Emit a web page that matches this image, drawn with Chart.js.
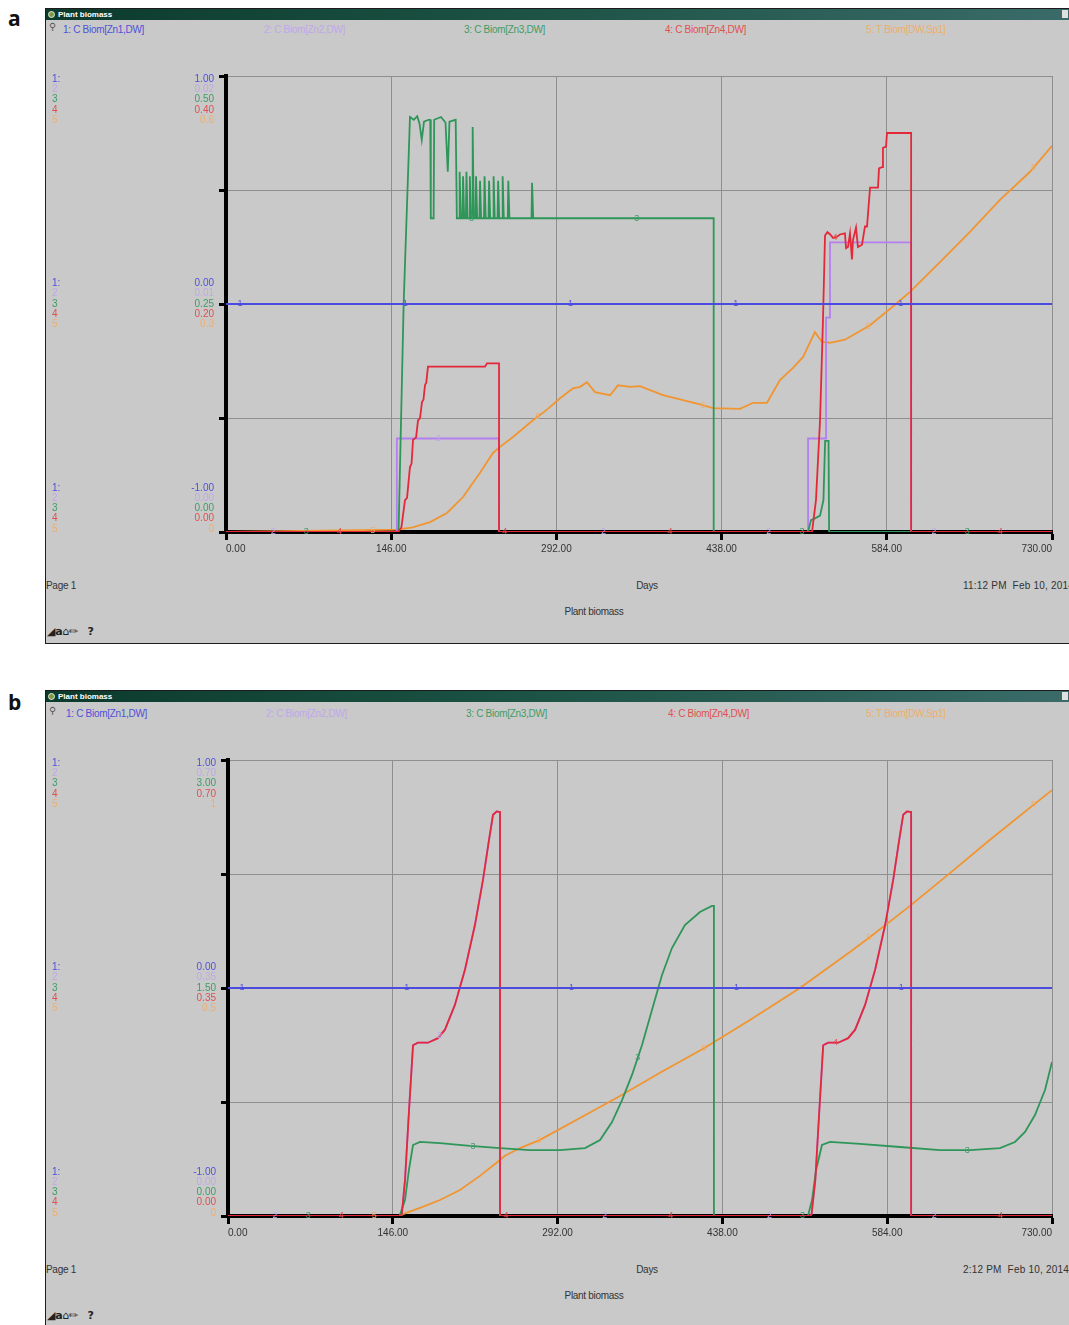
<!DOCTYPE html>
<html>
<head>
<meta charset="utf-8">
<script src="https://cdn.jsdelivr.net/npm/chart.js@4"></script>
<style>
body{margin:0;width:1069px;height:1325px;position:relative;overflow:hidden;background:#fff;font-family:"Liberation Sans",Arial,sans-serif}
.tag{position:absolute;left:8px;font:bold 21px "Open Sans","DejaVu Sans",sans-serif;color:#111}
.win{position:absolute;left:45px;width:1024px;box-sizing:border-box;border:1px solid #1c1c1c;border-right:none;background:#c9c9c9;overflow:hidden}
.bar{position:absolute;left:0;top:0;right:0;height:11px;background:linear-gradient(to right,#0c3a2c,#1b5243 45%,#3a6b69)}
.bar span{position:absolute;left:12px;top:0;font:bold 8px "Liberation Sans",Arial;color:#fff;line-height:11px}
.dot{position:absolute;left:2px;top:2px;width:5px;height:5px;border:1px solid #e4ecc8;border-radius:50%;background:#7a9a50}
.box{position:absolute;right:1px;top:1px;width:6px;height:8px;background:#e0e0e0}
.t{position:absolute;font-size:10px;line-height:12px;white-space:pre;letter-spacing:-0.3px;color:#333}
canvas{position:absolute;left:0;top:0}
</style>
</head>
<body>
<div class="tag" style="top:4px">a</div>
<div class="tag" style="top:688px">b</div>
<script>
// values: [day, value] per series
const dayMin = 0, dayMax = 730, dayStep = 146;

// panel a
const zn1A = [[0, 0], [730, 0]];
const zn2A = [[0, 0], [151, 0], [151, 0.0041], [241.3, 0.0041], [241.3, 0], [514.4, 0], [514.4, 0.0041],
  [530.3, 0.0041], [530.3, 0.0094], [533.8, 0.0094], [533.8, 0.0127], [605.5, 0.0127], [605.5, 0], [730, 0]];
const zn3A = [[0, 0], [152.5, 0], [157, 0.25], [162.6, 0.455], [166, 0.452], [169, 0.456], [171, 0.448], [173, 0.43],
  [175, 0.45], [179, 0.452], [180.5, 0.452], [181, 0.344], [183.5, 0.344], [184, 0.452], [190, 0.455], [194, 0.449],
  [196, 0.395], [197.5, 0.45], [203, 0.452], [204, 0.344], [206, 0.344], [206.5, 0.395], [207.5, 0.344], [209, 0.344],
  [209.5, 0.39], [210.5, 0.344], [212, 0.344], [212.5, 0.395], [213.5, 0.344], [215, 0.344], [215.5, 0.39],
  [216.5, 0.344], [217.5, 0.344], [218, 0.444], [219, 0.344], [220.5, 0.344], [221, 0.39], [222, 0.344], [224, 0.344],
  [224.5, 0.385], [225.5, 0.344], [228, 0.344], [228.5, 0.39], [229.5, 0.344], [232, 0.344], [232.5, 0.385],
  [233.5, 0.344], [236, 0.344], [236.5, 0.39], [237.5, 0.344], [240, 0.344], [240.5, 0.385], [241.5, 0.344],
  [244, 0.344], [244.5, 0.39], [245.5, 0.344], [249, 0.344], [249.5, 0.385], [250.5, 0.344], [270, 0.344],
  [270.5, 0.383], [271.5, 0.344], [431, 0.344], [431, 0], [514.4, 0], [517, 0.013], [520.5, 0.015], [525, 0.018],
  [528, 0.035], [529.5, 0.1], [532.5, 0.1], [533, 0], [730, 0]];
const zn4A = [[0, 0], [152, 0], [155, 0.004], [158.2, 0.028], [160, 0.03], [162.6, 0.057], [164, 0.06], [165.3, 0.081],
  [168, 0.083], [169.7, 0.098], [171.5, 0.1], [173.2, 0.114], [174.5, 0.116], [175.9, 0.129], [177, 0.131],
  [178.5, 0.145], [228.9, 0.145], [230.7, 0.148], [241.3, 0.148], [241.3, 0], [517.9, 0], [521.4, 0.028],
  [525, 0.098], [527.6, 0.186], [529.4, 0.26], [531.5, 0.263], [534, 0.261], [536.5, 0.258], [540, 0.259],
  [542.6, 0.261], [547, 0.262], [548, 0.249], [549.7, 0.25], [551.5, 0.262], [553.2, 0.239], [554.1, 0.256],
  [556.8, 0.267], [558.5, 0.25], [562.1, 0.252], [564.7, 0.268], [566.5, 0.268], [569.2, 0.302], [576.2, 0.302],
  [577.1, 0.319], [579.8, 0.32], [580.6, 0.337], [583.3, 0.338], [584.2, 0.35], [605.5, 0.35], [605.5, 0], [730, 0]];
const zn5A = [[0, 0], [151, 0.003], [165, 0.006], [180.3, 0.013], [195.3, 0.025], [209.5, 0.046], [224.5, 0.078],
  [236, 0.104], [242.2, 0.112], [253.6, 0.125], [271.3, 0.147], [283.7, 0.161], [295.2, 0.176], [306.7, 0.189],
  [312.9, 0.191], [319, 0.197], [326.1, 0.184], [339.4, 0.18], [346.4, 0.193], [357, 0.191], [365.9, 0.192],
  [386.2, 0.18], [421.6, 0.167], [430.4, 0.163], [454.3, 0.162], [465.8, 0.17], [478.1, 0.17], [489.6, 0.2],
  [501.1, 0.216], [509.9, 0.23], [520.5, 0.263], [526.7, 0.25], [533.8, 0.249], [547, 0.253], [569.2, 0.272],
  [591.2, 0.299], [604.5, 0.316], [631, 0.355], [657.5, 0.395], [684, 0.437], [710.6, 0.474], [730, 0.508]];

// panel b
const zn1B = [[0, 0], [730, 0]];
const zn3B = [[0, 0], [152, 0], [156.8, 0.105], [160.3, 0.303], [163.9, 0.467], [170.1, 0.487], [187.8, 0.48],
  [214.4, 0.461], [241, 0.447], [267.5, 0.434], [294.1, 0.434], [316.3, 0.447], [329.6, 0.5], [340.2, 0.618],
  [349.1, 0.763], [357.9, 0.928], [366.8, 1.125], [375.6, 1.355], [384.5, 1.586], [393.3, 1.763], [404.8, 1.914],
  [418.1, 2.0], [428.7, 2.04], [430.5, 2.04], [430.5, 0], [513.8, 0], [517.4, 0.105], [521, 0.303], [526.2, 0.467],
  [533.3, 0.487], [559.9, 0.474], [595.3, 0.454], [630.8, 0.434], [657.3, 0.434], [683.9, 0.447], [697.2, 0.487],
  [706.1, 0.553], [714.9, 0.664], [723.8, 0.829], [730, 1.013]];
// series 2 and 4 lie on top of each other in panel b
const zn4B = [[0, 0], [152.4, 0], [154, 0.003], [156.8, 0.055], [160.3, 0.16], [163.9, 0.262], [168.3, 0.266],
  [177.2, 0.266], [186, 0.273], [192.2, 0.286], [201, 0.324], [209.9, 0.378], [218.8, 0.447], [225.9, 0.516],
  [231.2, 0.577], [234.8, 0.616], [238, 0.621], [241, 0.62], [241, 0], [515.5, 0], [517, 0.003], [520.3, 0.055],
  [523.8, 0.16], [527.3, 0.262], [531.7, 0.266], [540.6, 0.266], [549.4, 0.273], [555.6, 0.286], [564.4, 0.324],
  [573.3, 0.378], [582.2, 0.447], [589.3, 0.516], [594.6, 0.577], [598.2, 0.616], [601.5, 0.621], [605.2, 0.62],
  [605.2, 0], [730, 0]];
const zn2B = zn4B;
const zn5B = [[0, 0], [152.4, 0], [155, 0.004], [170.1, 0.018], [187.8, 0.035], [205.5, 0.057], [223.2, 0.088],
  [236.5, 0.114], [245.4, 0.132], [258.7, 0.149], [276.4, 0.167], [311.8, 0.215], [347.3, 0.263], [382.7, 0.314],
  [421.7, 0.368], [462.4, 0.43], [506.7, 0.5], [551, 0.579], [568.8, 0.612], [604.2, 0.68], [639.6, 0.752],
  [675.1, 0.825], [715.8, 0.906], [730, 0.934]];

const scaleMinA = [-1, 0, 0, 0, 0];
const scaleMaxA = [1, 0.02, 0.5, 0.4, 0.6];
const scaleMinB = [-1, 0, 0, 0, 0];
const scaleMaxB = [1, 0.7, 3, 0.7, 1];

const seriesNames = ['1: C Biom[Zn1,DW]', '2: C Biom[Zn2,DW]', '3: C Biom[Zn3,DW]', '4: C Biom[Zn4,DW]', '5: T Biom[DW,Sp1]'];
const lineColors = ['#4b4bdf', '#b47ff0', '#2e9659', '#e4283a', '#f19530'];
const textColors = ['#5050da', '#bfa8ea', '#3f9c66', '#e05050', '#f0ae6a'];
const drawOrder = [0, 3, 2, 1, 4];
// days where the numbered markers sit on each curve (repeat every 146 days)
const markerDays = [12.4, 41.7, 71, 100.3, 129.6];

const font = '"Liberation Sans", Arial, sans-serif';

function valueAt(pts, d) {
  for (let j = 0; j < pts.length - 1; j++) {
    const a = pts[j], b = pts[j + 1];
    if (d >= a[0] && d <= b[0]) {
      if (b[0] === a[0]) return b[1];
      return a[1] + (b[1] - a[1]) * (d - a[0]) / (b[0] - a[0]);
    }
  }
  return pts[pts.length - 1][1];
}

const scaleStacks = {
  id: 'scaleStacks',
  afterDraw(chart) {
    const ctx = chart.ctx, a = chart.chartArea;
    const mid = (a.top + a.bottom) / 2;
    ctx.save();
    ctx.font = '10px ' + font;
    ctx.textBaseline = 'middle';
    const rows = [[a.top + 3, 'max'], [mid - 20.6, 'mid'], [a.bottom - 3 - 41.2, 'min']];
    rows.forEach(([start, kind]) => {
      for (let i = 0; i < 5; i++) {
        const s = chart.scales['y' + (i + 1)];
        const v = kind === 'max' ? s.max : kind === 'min' ? s.min : (s.min + s.max) / 2;
        const txt = i < 4 ? v.toFixed(2) : String(+v.toFixed(2));
        const y = start + i * 10.3;
        ctx.fillStyle = textColors[i];
        ctx.textAlign = 'left';
        ctx.fillText(i === 0 ? '1:' : String(i + 1), 6, y);
        ctx.textAlign = 'right';
        ctx.fillText(txt, a.left - 12, y);
      }
    });
    ctx.restore();
  }
};

const curveMarkers = {
  id: 'curveMarkers',
  afterDatasetsDraw(chart) {
    const ctx = chart.ctx;
    ctx.save();
    ctx.font = '9px ' + font;
    ctx.textAlign = 'center';
    ctx.textBaseline = 'middle';
    chart.data.datasets.forEach((ds, i) => {
      const ys = chart.scales['y' + (i + 1)];
      for (let d = markerDays[i]; d <= dayMax; d += dayStep) {
        const px = chart.scales.x.getPixelForValue(d);
        const py = ys.getPixelForValue(valueAt(ds.pts, d));
        ctx.fillStyle = textColors[i];
        ctx.fillText(String(i + 1), px, py);
      }
    });
    ctx.restore();
  }
};

function buildPanel(p) {
  const win = document.createElement('div');
  win.className = 'win';
  win.style.top = p.top + 'px';
  win.style.height = p.height + 'px';
  win.innerHTML = '<div class="bar"><div class="dot"></div><span>Plant biomass</span><div class="box"></div></div>' +
    '<div class="t" style="left:3px;top:' + (p.headTop - 3) + 'px;color:#555;font-family:DejaVu Sans">&#9906;</div>';
  seriesNames.forEach((n, i) => {
    const s = document.createElement('div');
    s.className = 't';
    s.style.left = p.headX[i] + 'px';
    s.style.top = p.headTop + 'px';
    s.style.color = textColors[i];
    s.textContent = n;
    win.appendChild(s);
  });
  const foot = [
    ['Page 1', 0, p.footTop, false],
    ['Days', 601, p.footTop, true],
    [p.stamp, 917, p.footTop, false],
    ['Plant biomass', 548, p.footTop + 26, true]
  ];
  foot.forEach(([txt, x, y, c]) => {
    const s = document.createElement('div');
    s.className = 't';
    s.style.left = x + 'px';
    s.style.top = y + 'px';
    if (c) s.style.transform = 'translateX(-50%)';
    else if (x > 0) s.style.letterSpacing = '0.2px';
    s.textContent = txt;
    win.appendChild(s);
  });
  const ic = document.createElement('div');
  ic.className = 't';
  ic.style.left = '1px';
  ic.style.top = (p.footTop + 46) + 'px';
  ic.style.color = '#222';
  ic.style.fontFamily = 'DejaVu Sans';
  ic.style.fontSize = '11px';
  ic.innerHTML = '&#9698;<b>a</b>&#8962;&#9999;   <b>?</b>';
  win.appendChild(ic);

  const cv = document.createElement('canvas');
  cv.width = 1023;
  cv.height = 634;
  win.appendChild(cv);
  document.body.appendChild(win);

  const scales = {
    x: {
      type: 'linear', min: dayMin, max: dayMax,
      afterFit: s => { s.height = 30; },
      ticks: {
        stepSize: dayStep, autoSkip: false, maxRotation: 0, align: 'inner', padding: 3,
        color: '#333', font: {size: 10, family: font},
        callback: v => Number(v).toFixed(2)
      },
      grid: {color: '#8e8e8e', lineWidth: 1, drawTicks: true, tickLength: 8, tickColor: '#000', tickWidth: 3},
      border: {color: '#000', width: 4}
    }
  };
  for (let i = 0; i < 5; i++) {
    const id = 'y' + (i + 1);
    if (i === 0) {
      scales[id] = {
        position: 'left', min: p.mins[0], max: p.maxs[0],
        afterFit: s => { s.width = 10; },
        ticks: {display: false, stepSize: (p.maxs[0] - p.mins[0]) / 4},
        grid: {color: '#8e8e8e', lineWidth: 1, drawTicks: true, tickLength: 7, tickColor: '#000', tickWidth: 3},
        border: {color: '#000', width: 4}
      };
    } else {
      scales[id] = {display: false, min: p.mins[i], max: p.maxs[i]};
    }
  }

  new Chart(cv.getContext('2d'), {
    type: 'line',
    data: {
      datasets: p.series.map((pts, i) => ({
        label: seriesNames[i],
        pts: pts,
        data: pts.map(([x, y]) => ({x: x, y: y})),
        yAxisID: 'y' + (i + 1),
        borderColor: lineColors[i],
        borderWidth: 1.8,
        pointRadius: 0,
        fill: false,
        order: drawOrder[i]
      }))
    },
    options: {
      responsive: false,
      animation: false,
      events: [],
      layout: {padding: {left: p.plotLeft - 10, right: 17, top: p.plotTop, bottom: 634 - p.plotBottom - 30}},
      plugins: {legend: {display: false}, tooltip: {enabled: false}},
      scales: scales
    },
    plugins: [scaleStacks, curveMarkers]
  });
}

buildPanel({
  top: 8, height: 636, plotLeft: 180, plotTop: 67, plotBottom: 523,
  headTop: 15, headX: [17, 218, 418, 619, 820], footTop: 571, stamp: '11:12 PM  Feb 10, 2014',
  mins: scaleMinA, maxs: scaleMaxA, series: [zn1A, zn2A, zn3A, zn4A, zn5A]
});
buildPanel({
  top: 690, height: 636, plotLeft: 182, plotTop: 69, plotBottom: 525,
  headTop: 17, headX: [20, 220, 420, 622, 820], footTop: 573, stamp: '2:12 PM  Feb 10, 2014',
  mins: scaleMinB, maxs: scaleMaxB, series: [zn1B, zn2B, zn3B, zn4B, zn5B]
});
</script>
</body>
</html>
